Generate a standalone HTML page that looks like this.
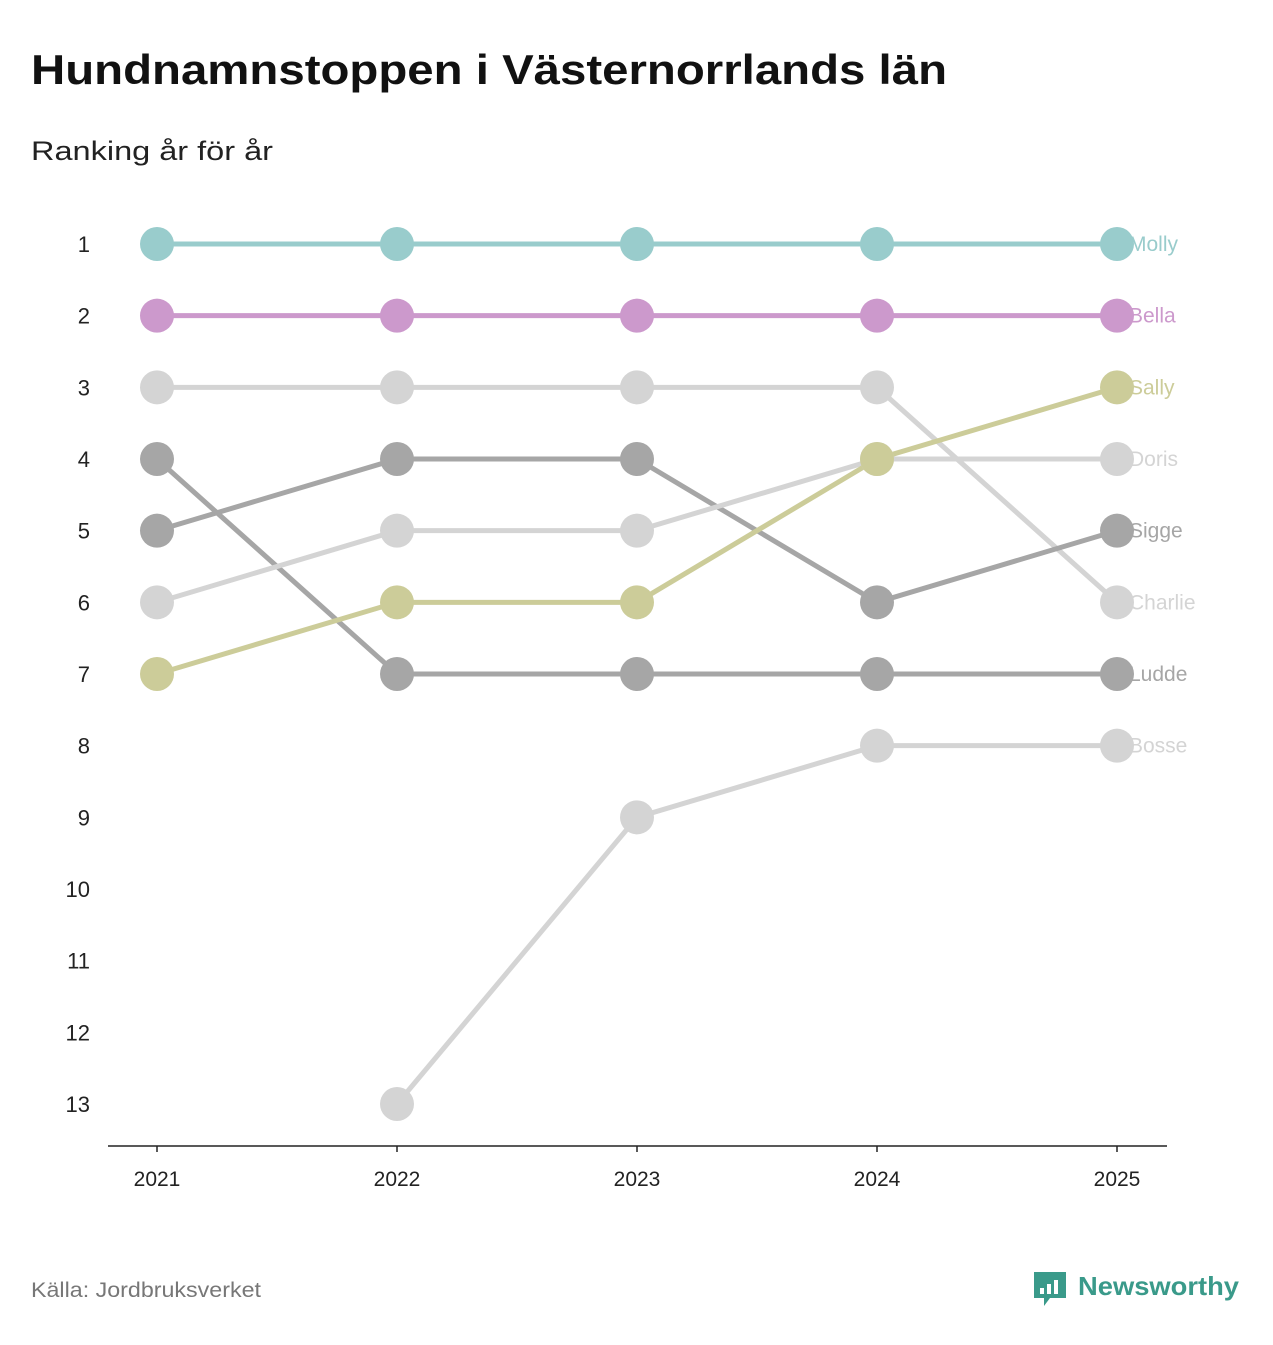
<!DOCTYPE html>
<html><head><meta charset="utf-8"><style>
body{margin:0;background:#fff;font-family:"Liberation Sans",sans-serif;}
svg text{font-family:"Liberation Sans",sans-serif;}
</style></head><body>
<svg id="chart" width="1273" height="1340">
<text x="31" y="84" font-size="42" font-weight="bold" fill="#111" textLength="916" lengthAdjust="spacingAndGlyphs">Hundnamnstoppen i Västernorrlands län</text>
<text x="31" y="160" font-size="27" fill="#222" textLength="242" lengthAdjust="spacingAndGlyphs">Ranking år för år</text>
<text x="31" y="1297" font-size="21" fill="#777" textLength="230" lengthAdjust="spacingAndGlyphs">Källa: Jordbruksverket</text>
<g>
<path d="M1034 1272h32v26h-16l-6 8v-8h-10z" fill="#3a9a8a"/>
<rect x="1040" y="1288" width="4" height="6" fill="#fff"/><rect x="1047" y="1284" width="4" height="10" fill="#fff"/><rect x="1054" y="1280" width="4" height="14" fill="#fff"/>
<text x="1078" y="1295" font-size="26" font-weight="bold" fill="#3a9a8a" textLength="161" lengthAdjust="spacingAndGlyphs">Newsworthy</text>
</g>
<g id="axes"></g><g id="lines"></g><g id="dots"></g><g id="labels"></g>
</svg>
<script>
const years=[2021,2022,2023,2024,2025];
const rankTicks=[1,2,3,4,5,6,7,8,9,10,11,12,13];
const names=["Molly","Bella","Charlie","Sigge","Ludde","Doris","Sally","Bosse"];
const molly=[1,1,1,1,1];
const bella=[2,2,2,2,2];
const charlie=[3,3,3,3,6];
const sigge=[5,4,4,6,5];
const ludde=[4,7,7,7,7];
const doris=[6,5,5,4,4];
const sally=[7,6,6,4,3];
const bosse=[null,13,9,8,8];
const seriesValues=[molly,bella,charlie,sigge,ludde,doris,sally,bosse];
const colors=["#99cccc","#cc99cc","#d4d4d4","#a6a6a6","#a6a6a6","#d4d4d4","#cccc99","#d4d4d4"];
const xScale=i=>157+i*240;
const yScale=r=>244+(r-1)*(1104-244)/12;
const NS="http://www.w3.org/2000/svg";
function mk(t,a,p){const e=document.createElementNS(NS,t);for(const k in a)e.setAttribute(k,a[k]);document.getElementById(p).appendChild(e);return e;}
const ax=mk("line",{x1:108,x2:1167,y1:1146,y2:1146,stroke:"#222","stroke-width":1.5},"axes");


years.forEach((y,i)=>{
 const tk=mk("line",{x1:xScale(i),x2:xScale(i),y1:1146,y2:1152,stroke:"#222","stroke-width":1.5},"axes");
 
 
 const t=mk("text",{x:xScale(i),y:1186,"font-size":21,fill:"#222","text-anchor":"middle"},"axes");t.textContent=y;
 
 
});
rankTicks.forEach(r=>{
 const t=mk("text",{x:90,y:yScale(r)+8,"font-size":22,fill:"#222","text-anchor":"end"},"axes");t.textContent=r;
 
 
});
seriesValues.forEach((vals,s)=>{
 let d="";vals.forEach((v,i)=>{if(v==null)return;d+=(d?"L":"M")+xScale(i)+" "+yScale(v);});
 const p=mk("path",{d:d,fill:"none",stroke:colors[s],"stroke-width":5},"lines");
 
 
 vals.forEach((v,i)=>{if(v==null)return;
  const c=mk("circle",{cx:xScale(i),cy:yScale(v),r:17,fill:colors[s]},"dots");
  
  
 });
 const last=vals[vals.length-1];
 const t=mk("text",{x:xScale(4)+12,y:yScale(last)+7,"font-size":21,fill:colors[s]},"labels");t.textContent=names[s];
 
 
});
</script>
</body></html>
